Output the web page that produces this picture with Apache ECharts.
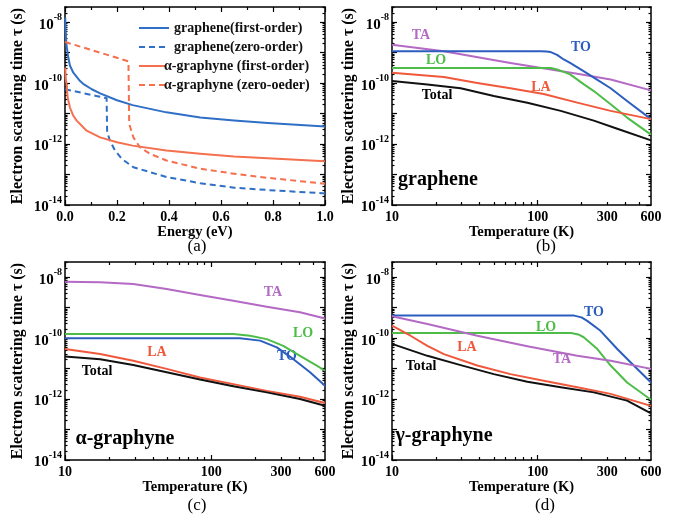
<!DOCTYPE html>
<html><head><meta charset="utf-8">
<script src="https://cdn.jsdelivr.net/npm/echarts@6/dist/echarts.min.js"></script>
<style>html,body{margin:0;padding:0;background:#fff}#c{width:688px;height:518px}</style>
</head><body><div id="c"></div>
<script>
// ---------------- tick labels ----------------
const energyTicks = [0, 0.2, 0.4, 0.6, 0.8, 1.0];
const energyMinorTicks = [0.1, 0.3, 0.5, 0.7, 0.9];
const tempTicks = [10, 100];
const tempMinorTicks = [20, 30, 40, 50, 60, 70, 80, 90, 200, 300, 400, 500];
const tempLabels = [10, 100, 300, 600];
const tauTicks = [1e-14, 1e-13, 1e-12, 1e-11, 1e-10, 1e-9, 1e-8];
const tauLabels = [1e-14, 1e-12, 1e-10, 1e-8];
const tauMinorTicks = [];
for (let e = -14; e <= -9; e++) for (let m = 2; m <= 9; m++) tauMinorTicks.push(m * Math.pow(10, e));
tauMinorTicks.push(2e-8, 3e-8);

// ---------------- panel (a) ----------------
const aE_gFirst   = [0.001, 0.002, 0.005, 0.0127, 0.019, 0.032, 0.058, 0.07, 0.103, 0.135, 0.2, 0.26, 0.39, 0.52, 0.65, 0.78, 1.0];
const aTau_gFirst = [1.41e-8, 6.3e-9, 2.0e-9, 6.8e-10, 3.8e-10, 2.2e-10, 1.17e-10, 9.5e-11, 6.3e-11, 4.6e-11, 2.75e-11, 1.9e-11, 1.1e-11, 7.4e-12, 5.9e-12, 4.9e-12, 3.8e-12];
const aE_gZero    = [0, 0.06, 0.12, 0.16, 0.162, 0.173, 0.192, 0.218, 0.263, 0.39, 0.52, 0.65, 0.78, 1.0];
const aTau_gZero  = [6.3e-11, 4.9e-11, 3.8e-11, 3.2e-11, 2.5e-12, 1.29e-12, 6.2e-13, 3.3e-13, 1.74e-13, 8.3e-14, 5.2e-14, 3.7e-14, 3.1e-14, 2.4e-14];
const aE_aFirst   = [0.001, 0.003, 0.0065, 0.0103, 0.019, 0.032, 0.045, 0.083, 0.135, 0.2, 0.26, 0.39, 0.52, 0.65, 0.78, 1.0];
const aTau_aFirst = [3.2e-10, 1.41e-10, 8.1e-11, 3.3e-11, 1.58e-11, 8.5e-12, 5.9e-12, 2.75e-12, 1.66e-12, 1.15e-12, 8.9e-13, 6.2e-13, 4.8e-13, 3.9e-13, 3.4e-13, 2.75e-13];
const aE_aZero    = [0, 0.12, 0.244, 0.247, 0.263, 0.288, 0.327, 0.39, 0.52, 0.65, 0.78, 1.0];
const aTau_aZero  = [2.24e-9, 1.1e-9, 5.2e-10, 4.6e-12, 1.66e-12, 7.9e-13, 4.8e-13, 2.9e-13, 1.55e-13, 1.07e-13, 7.8e-14, 5.0e-14];

// ---------------- panel (b) graphene ----------------
const bT_TA = [10, 22.7, 65, 187, 317, 600];
const bTau_TA = [1.82e-9, 1.12e-9, 4.6e-10, 2.04e-10, 1.32e-10, 5.8e-11];
const bT_TO = [10, 105, 115, 123, 136, 151, 167, 208, 243, 317, 411, 600];
const bTau_TO = [1.12e-9, 1.12e-9, 1.1e-9, 1.05e-9, 8.5e-10, 6.0e-10, 4.6e-10, 2.45e-10, 1.51e-10, 6.8e-11, 2.6e-11, 6.6e-12];
const bT_LO = [10, 123, 136, 151, 167, 208, 243, 317, 411, 600];
const bTau_LO = [3.16e-10, 3.16e-10, 2.8e-10, 2.34e-10, 1.95e-10, 9.1e-11, 5.5e-11, 2.04e-11, 7.4e-12, 2.04e-12];
const bT_LA = [10, 22.7, 38.5, 65, 110, 187, 317, 600];
const bTau_LA = [2.19e-10, 1.58e-10, 1.02e-10, 6.8e-11, 4.4e-11, 2.29e-11, 1.23e-11, 6.6e-12];
const bT_Tot = [10, 17.5, 29.6, 50, 85, 144, 243, 352, 600];
const bTau_Tot = [1.17e-10, 9.1e-11, 6.8e-11, 3.8e-11, 2.29e-11, 1.23e-11, 5.9e-12, 3.2e-12, 1.32e-12];

// ---------------- panel (c) alpha-graphyne ----------------
const cT_TA = [10, 17.4, 29.3, 49.6, 83.8, 141.6, 239.7, 404.6, 600];
const cTau_TA = [7.1e-9, 6.8e-9, 6.0e-9, 4.1e-9, 2.63e-9, 1.7e-9, 1.07e-9, 7.1e-10, 4.4e-10];
const cT_LO = [10, 142, 184, 240, 311, 405, 527, 600];
const cTau_LO = [1.38e-10, 1.38e-10, 1.2e-10, 9.3e-11, 5.6e-11, 2.63e-11, 1.26e-11, 8.5e-12];
const cT_TO = [10, 157, 216, 281, 365, 474, 600];
const cTau_TO = [1.0e-10, 1.0e-10, 8.3e-11, 5.0e-11, 2.04e-11, 7.6e-12, 2.75e-12];
const cT_LA = [10, 17.4, 29.3, 49.6, 83.8, 141.6, 239.7, 404.6, 600];
const cTau_LA = [4.4e-11, 3.0e-11, 1.82e-11, 9.8e-12, 5.1e-12, 3.1e-12, 1.86e-12, 1.2e-12, 7.4e-13];
const cT_Tot = [10, 17.4, 29.3, 49.6, 83.8, 141.6, 239.7, 404.6, 600];
const cTau_Tot = [2.5e-11, 2.04e-11, 1.32e-11, 7.6e-12, 4.4e-12, 2.63e-12, 1.66e-12, 1.0e-12, 6.0e-13];

// ---------------- panel (d) gamma-graphyne ----------------
const dT_TO = [10, 178, 200, 219, 270, 352, 457, 600];
const dTau_TO = [5.5e-10, 5.5e-10, 4.8e-10, 3.7e-10, 1.74e-10, 4.4e-11, 1.26e-11, 3.5e-12];
const dT_LO = [10, 170, 190, 207, 257, 317, 411, 600];
const dTau_LO = [1.48e-10, 1.48e-10, 1.32e-10, 1.07e-10, 4.4e-11, 1.26e-11, 3.5e-12, 9.5e-13];
const dT_TA = [10, 17.5, 38.5, 85, 187, 317, 600];
const dTau_TA = [5.2e-10, 2.9e-10, 1.2e-10, 5.4e-11, 2.63e-11, 1.82e-11, 9.8e-12];
const dT_LA = [10, 13.4, 17.5, 22.7, 38.5, 65, 110, 187, 317, 600];
const dTau_LA = [2.57e-10, 1.2e-10, 5.6e-11, 3.0e-11, 1.26e-11, 6.6e-12, 4.0e-12, 2.45e-12, 1.48e-12, 6.0e-13];
const dT_Tot = [10, 17.5, 29.6, 50, 85, 144, 243, 411, 600];
const dTau_Tot = [6.5e-11, 2.63e-11, 1.3e-11, 6.6e-12, 3.7e-12, 2.45e-12, 1.66e-12, 8.9e-13, 3.4e-13];

// ---------------- styling ----------------
const SERIF = '"Liberation Serif","Times New Roman",serif';
const A_BLUE = '#2f6fc6', A_ORANGE = '#f4704f';
const C_TA = '#b46ac4', C_TO = '#2c5ebf', C_LO = '#4dbd48', C_LA = '#f0583b', C_TOT = '#111111';
const TAU_MAX = Math.pow(10, -7.5);

const grids = [
  {left: 65, top: 7, width: 260, height: 198},
  {left: 392, top: 7, width: 259, height: 198},
  {left: 65, top: 262, width: 260, height: 198},
  {left: 392, top: 262, width: 259, height: 198}
].map(g => Object.assign({containLabel: false, outerBoundsMode: 'none'}, g));

const xAxis = [], yAxis = [];
const frameLine = {show: true, onZero: false, lineStyle: {color: '#000', width: 1.5}};
const tickStyle = {color: '#000', width: 1.2};

function addX(g, type, min, max, majors, minors, labels, fmt, name) {
  const base = {gridIndex: g, type: type, min: min, max: max, splitLine: {show: false}};
  if (type === 'log') base.logBase = 10;
  const main = xAxis.length;
  xAxis.push(Object.assign({}, base, {
    position: 'bottom', axisLine: frameLine,
    axisTick: {show: true, inside: true, length: 5, lineStyle: tickStyle, customValues: majors},
    axisLabel: {show: true, customValues: labels, formatter: fmt, margin: 5, color: '#000',
      fontFamily: SERIF, fontWeight: 'bold', fontSize: 14},
    name: name, nameLocation: 'middle', nameGap: 18,
    nameTextStyle: {fontFamily: SERIF, fontWeight: 'bold', fontSize: 14.5, color: '#000'}
  }));
  xAxis.push(Object.assign({}, base, {position: 'top', axisLine: frameLine,
    axisTick: {show: true, inside: true, length: 5, lineStyle: tickStyle, customValues: majors}, axisLabel: {show: false}}));
  ['bottom', 'top'].forEach(p => xAxis.push(Object.assign({}, base, {position: p, axisLine: {show: false, onZero: false},
    axisTick: {show: true, inside: true, length: 3, lineStyle: tickStyle, customValues: minors}, axisLabel: {show: false}})));
  return main;
}
function addY(g, nameGap) {
  const base = {gridIndex: g, type: 'log', logBase: 10, min: 1e-14, max: TAU_MAX, splitLine: {show: false}};
  const main = yAxis.length;
  yAxis.push(Object.assign({}, base, {
    position: 'left', axisLine: frameLine,
    axisTick: {show: true, inside: true, length: 5, lineStyle: tickStyle, customValues: tauTicks},
    axisLabel: {show: true, customValues: tauLabels, margin: 3,
      formatter: v => '{b|10}{s|' + Math.round(Math.log10(v)) + '}',
      rich: {
        b: {fontFamily: SERIF, fontWeight: 'bold', fontSize: 15, color: '#000', lineHeight: 20, verticalAlign: 'bottom'},
        s: {fontFamily: SERIF, fontWeight: 'bold', fontSize: 10, color: '#000', lineHeight: 10, verticalAlign: 'top'}
      }},
    name: 'Electron scattering time τ (s)', nameLocation: 'middle', nameRotate: 90, nameGap: nameGap,
    nameTextStyle: {fontFamily: SERIF, fontWeight: 'bold', fontSize: 16, color: '#000'}
  }));
  yAxis.push(Object.assign({}, base, {position: 'right', axisLine: frameLine,
    axisTick: {show: true, inside: true, length: 5, lineStyle: tickStyle, customValues: tauTicks}, axisLabel: {show: false}}));
  ['left', 'right'].forEach(p => yAxis.push(Object.assign({}, base, {position: p, axisLine: {show: false, onZero: false},
    axisTick: {show: true, inside: true, length: 2.5, lineStyle: tickStyle, customValues: tauMinorTicks}, axisLabel: {show: false}})));
  return main;
}

const ax = [], ay = [];
ax[0] = addX(0, 'value', 0, 1, energyTicks, energyMinorTicks, energyTicks, v => v.toFixed(1), 'Energy (eV)');
for (let g = 1; g < 4; g++) ax[g] = addX(g, 'log', 10, 600, tempTicks, tempMinorTicks, tempLabels, v => String(Math.round(v)), 'Temperature (K)');
ay[0] = addY(0, 39); ay[1] = addY(1, 34); ay[2] = addY(2, 39); ay[3] = addY(3, 34);

function line(name, g, xs, ys, color, dashed) {
  return {
    type: 'line', name: name, xAxisIndex: ax[g], yAxisIndex: ay[g],
    data: xs.map((x, i) => [x, ys[i]]),
    showSymbol: false, symbol: 'none', smooth: false, silent: true,
    lineStyle: {color: color, width: 2, type: dashed ? [6, 4] : 'solid', join: 'round'},
    itemStyle: {color: color}
  };
}

const series = [
  line('graphene(first-order)', 0, aE_gFirst, aTau_gFirst, A_BLUE, false),
  line('graphene(zero-order)', 0, aE_gZero, aTau_gZero, A_BLUE, true),
  line('α-graphyne (first-order)', 0, aE_aFirst, aTau_aFirst, A_ORANGE, false),
  line('α-graphyne (zero-oeder)', 0, aE_aZero, aTau_aZero, A_ORANGE, true),

  line('TA', 1, bT_TA, bTau_TA, C_TA, false),
  line('TO', 1, bT_TO, bTau_TO, C_TO, false),
  line('LO', 1, bT_LO, bTau_LO, C_LO, false),
  line('LA', 1, bT_LA, bTau_LA, C_LA, false),
  line('Total', 1, bT_Tot, bTau_Tot, C_TOT, false),

  line('TA', 2, cT_TA, cTau_TA, C_TA, false),
  line('LO', 2, cT_LO, cTau_LO, C_LO, false),
  line('TO', 2, cT_TO, cTau_TO, C_TO, false),
  line('LA', 2, cT_LA, cTau_LA, C_LA, false),
  line('Total', 2, cT_Tot, cTau_Tot, C_TOT, false),

  line('TO', 3, dT_TO, dTau_TO, C_TO, false),
  line('LO', 3, dT_LO, dTau_LO, C_LO, false),
  line('TA', 3, dT_TA, dTau_TA, C_TA, false),
  line('LA', 3, dT_LA, dTau_LA, C_LA, false),
  line('Total', 3, dT_Tot, dTau_Tot, C_TOT, false)
];

const legendText = {fontFamily: SERIF, fontWeight: 'bold', fontSize: 14, color: '#111'};
const legend = [
  {data: ['graphene(first-order)', 'graphene(zero-order)'], orient: 'vertical', left: 133, top: 16,
   itemWidth: 30, itemHeight: 14, itemGap: 5, selectedMode: false, itemStyle: {opacity: 0},
   textStyle: Object.assign({padding: [0, 0, 0, 0]}, legendText)},
  {data: ['α-graphyne (first-order)', 'α-graphyne (zero-oeder)'], orient: 'vertical', left: 133, top: 54,
   itemWidth: 26, itemHeight: 14, itemGap: 5, selectedMode: false, itemStyle: {opacity: 0},
   textStyle: Object.assign({padding: [0, 0, 0, -6]}, legendText)}
];

function txt(t, x, y, color, size, weight) {
  return {type: 'text', x: x, y: y, silent: true,
    style: {text: t, fill: color, font: (weight || 'bold') + ' ' + size + 'px ' + SERIF,
      align: 'center', verticalAlign: 'middle', textAlign: 'center', textVerticalAlign: 'middle'}};
}
const graphic = [
  txt('(a)', 197, 247, '#000', 17, 'normal'),
  txt('(b)', 546, 247, '#000', 17, 'normal'),
  txt('(c)', 197, 506, '#000', 17, 'normal'),
  txt('(d)', 545, 506, '#000', 17, 'normal'),
  // (b)
  txt('TA', 421, 35, C_TA, 14), txt('TO', 581, 47, C_TO, 14), txt('LO', 436, 60, C_LO, 14),
  txt('LA', 541, 87, C_LA, 14), txt('Total', 437, 95, '#000', 14), txt('graphene', 438, 180, '#000', 20),
  // (c)
  txt('TA', 273, 292, C_TA, 14), txt('LO', 303, 333, C_LO, 14), txt('TO', 287, 356, C_TO, 14),
  txt('LA', 157, 352, C_LA, 14), txt('Total', 97, 371, '#000', 14), txt('α-graphyne', 125, 439, '#000', 20),
  // (d)
  txt('TO', 594, 312, C_TO, 14), txt('LO', 546, 327, C_LO, 14), txt('LA', 467, 347, C_LA, 14),
  txt('TA', 562, 359, C_TA, 14), txt('Total', 421, 366, '#000', 14), txt('γ-graphyne', 444, 436, '#000', 20)
];

const chart = echarts.init(document.getElementById('c'), null, {renderer: 'canvas'});
chart.setOption({
  backgroundColor: '#fff', animation: false,
  grid: grids, xAxis: xAxis, yAxis: yAxis, series: series, legend: legend, graphic: graphic
});
</script></body></html>
